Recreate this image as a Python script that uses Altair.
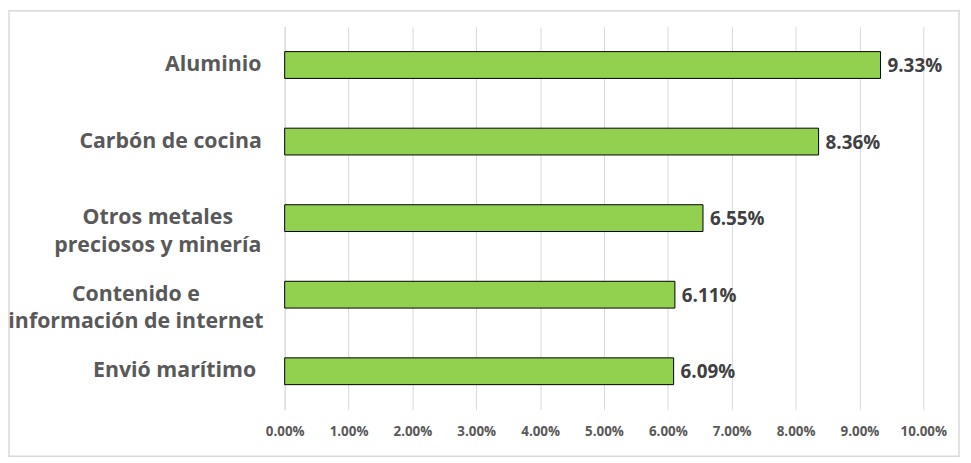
import altair as alt
import pandas as pd

categories = ["Aluminio", "Carbón de cocina", "Otros metales|preciosos y minería",
              "Contenido e|información de internet", "Envió marítimo"]
values = [9.33, 8.36, 6.55, 6.11, 6.09]
label_texts = ["9.33%", "8.36%", "6.55%", "6.11%", "6.09%"]
x_ticks = [0, 1, 2, 3, 4, 5, 6, 7, 8, 9, 10]

df = pd.DataFrame({"cat": categories, "val": values, "lbl": label_texts})

FONT = "Open Sans"
GRAY = "#595959"

# pixel center of each centered category-label block (styling)
cx_expr = ("datum.cat == 'Aluminio' ? -72 : datum.cat == 'Carbón de cocina' ? -115 : "
           "datum.cat == 'Envió marítimo' ? -111 : "
           "datum.cat == 'Otros metales|preciosos y minería' ? -128 : -150")

y_enc = alt.Y("cat:N", sort=categories, title=None,
              scale=alt.Scale(paddingInner=0.65, paddingOuter=0.325),
              axis=alt.Axis(labels=False, ticks=False, domain=True,
                            domainColor="#d9d9d9", grid=False))

x_enc = alt.X("val:Q", title=None,
              scale=alt.Scale(domain=[0, 10], nice=False),
              axis=alt.Axis(values=x_ticks, labelExpr="format(datum.value, '.2f') + '%'",
                            labelFont=FONT, labelFontSize=13.5, labelFontWeight="bold",
                            labelColor=GRAY, labelPadding=15, labelFlush=False,
                            ticks=False, domain=False,
                            grid=True, gridColor="#d9d9d9", gridWidth=1))

bars = alt.Chart(df).mark_bar(color="#92D050", stroke="black", strokeWidth=1).encode(
    x=x_enc, y=y_enc)

texts = alt.Chart(df).mark_text(align="left", dx=7, dy=1, font=FONT, fontSize=19,
                                fontWeight="bold", color="#404040").encode(
    x="val:Q", y=alt.Y("cat:N", sort=categories), text="lbl:N")

cat_labels = alt.Chart(df).transform_calculate(cx=cx_expr).mark_text(
    align="center", baseline="middle", lineBreak="|", lineHeight=28,
    font=FONT, fontSize=21.5, fontWeight="bold", color=GRAY).encode(
    x=alt.X("cx:Q", scale=None), y=alt.Y("cat:N", sort=categories), text="cat:N")

border = alt.Chart(pd.DataFrame({"a": [0]})).mark_rect(
    fill=None, stroke="#d9d9d9", strokeWidth=1.5).encode(
    x=alt.value(-278), x2=alt.value(680), y=alt.value(-16), y2=alt.value(433))

chart = alt.layer(border, bars, texts, cat_labels).properties(
    width=644, height=386,
    autosize=alt.AutoSizeParams(type="none"),
    padding={"left": 279, "top": 17, "right": 40, "bottom": 48},
    background="white",
).configure_view(stroke=None)

chart.save("out.html", embed_options={"renderer": "svg", "actions": False})
